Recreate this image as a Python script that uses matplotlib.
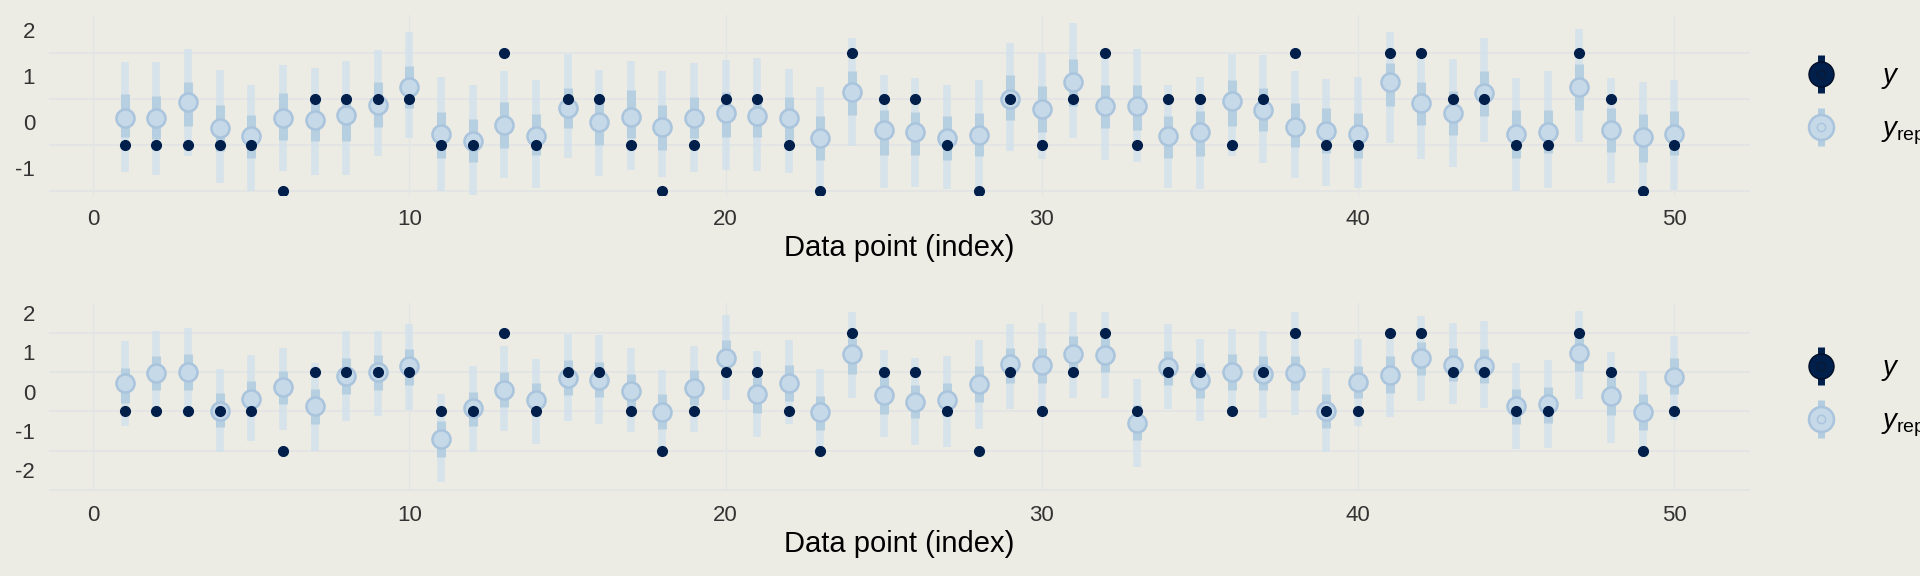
import matplotlib
matplotlib.use("Agg")
import matplotlib.pyplot as plt
from matplotlib.lines import Line2D
from matplotlib.legend_handler import HandlerTuple
import numpy as np

plt.rcParams['font.family'] = ['Liberation Sans', 'DejaVu Sans']
plt.rcParams['mathtext.fontset'] = 'custom'
plt.rcParams['mathtext.it'] = 'Liberation Sans:italic'
plt.rcParams['mathtext.rm'] = 'Liberation Sans'

# observed data (same in both panels)
y_obs = [-0.5, -0.5, -0.5, -0.5, -0.5, -1.5, 0.5, 0.5, 0.5, 0.5,
         -0.5, -0.5, 1.5, -0.5, 0.5, 0.5, -0.5, -1.5, -0.5, 0.5,
         0.5, -0.5, -1.5, 1.5, 0.5, 0.5, -0.5, -1.5, 0.5, -0.5,
         0.5, 1.5, -0.5, 0.5, 0.5, -0.5, 0.5, 1.5, -0.5, -0.5,
         1.5, 1.5, 0.5, 0.5, -0.5, -0.5, 1.5, 0.5, -1.5, -0.5]

# top panel: y_rep median, inner (50%) and outer (90%) intervals
top_med = [0.09, 0.09, 0.43, -0.13, -0.30, 0.09, 0.04, 0.15, 0.38, 0.76,
           -0.27, -0.41, -0.07, -0.30, 0.30, -0.01, 0.11, -0.12, 0.09, 0.20,
           0.14, 0.09, -0.34, 0.65, -0.18, -0.22, -0.35, -0.28, 0.50, 0.28,
           0.88, 0.34, 0.34, -0.31, -0.22, 0.45, 0.27, -0.12, -0.19, -0.26,
           0.87, 0.41, 0.20, 0.64, -0.27, -0.22, 0.76, -0.17, -0.33, -0.26]
top_in_hi = [0.60, 0.57, 0.88, 0.38, 0.16, 0.63, 0.45, 0.56, 0.88, 1.22,
             0.21, 0.07, 0.43, 0.18, 0.75, 0.49, 0.69, 0.38, 0.54, 0.66,
             0.59, 0.54, 0.14, 1.12, 0.25, 0.21, 0.12, 0.20, 1.03, 0.79,
             1.37, 0.81, 0.81, 0.14, 0.23, 0.92, 0.74, 0.41, 0.30, 0.20,
             1.28, 0.88, 0.67, 1.12, 0.25, 0.25, 1.27, 0.30, 0.17, 0.23]
top_in_lo = [-0.33, -0.38, -0.09, -0.64, -0.79, -0.40, -0.42, -0.42, -0.11, 0.30,
             -0.79, -0.88, -0.57, -0.73, -0.14, -0.51, -0.34, -0.62, -0.34, -0.33,
             -0.33, -0.40, -0.82, 0.16, -0.71, -0.73, -0.82, -0.75, 0.05, -0.22,
             0.34, -0.13, -0.17, -0.78, -0.75, -0.09, -0.20, -0.55, -0.67, -0.78,
             0.34, -0.07, -0.28, 0.14, -0.79, -0.67, 0.25, -0.66, -0.87, -0.73]
top_out_hi = [1.30, 1.30, 1.59, 1.14, 0.81, 1.25, 1.18, 1.32, 1.57, 1.97,
              0.98, 0.81, 1.12, 0.91, 1.49, 1.14, 1.33, 1.12, 1.28, 1.34,
              1.39, 1.16, 0.76, 1.83, 1.02, 0.95, 0.81, 0.91, 1.73, 1.50,
              2.15, 1.50, 1.59, 0.81, 0.98, 1.49, 1.46, 1.10, 0.93, 0.98,
              1.96, 1.37, 1.37, 1.83, 0.95, 1.10, 2.02, 0.96, 0.86, 0.92]
top_out_lo = [-1.08, -1.16, -0.75, -1.33, -1.50, -1.07, -1.16, -1.16, -0.75, -0.35,
              -1.50, -1.58, -1.22, -1.43, -0.78, -1.18, -1.05, -1.20, -1.08, -1.05,
              -1.07, -1.12, -1.50, -0.53, -1.44, -1.42, -1.47, -1.50, -0.64, -0.80,
              -0.35, -0.82, -0.88, -1.44, -1.45, -0.75, -0.89, -1.22, -1.40, -1.43,
              -0.46, -0.80, -0.98, -0.44, -1.50, -1.44, -0.44, -1.33, -1.50, -1.48]

# bottom panel
bot_med = [0.21, 0.47, 0.51, -0.48, -0.18, 0.11, -0.37, 0.39, 0.49, 0.66,
           -1.21, -0.41, 0.05, -0.21, 0.35, 0.29, 0.02, -0.51, 0.10, 0.86,
           -0.07, 0.21, -0.51, 0.95, -0.08, -0.26, -0.21, 0.20, 0.70, 0.67,
           0.96, 0.93, -0.79, 0.63, 0.29, 0.51, 0.46, 0.47, -0.49, 0.25,
           0.42, 0.86, 0.68, 0.64, -0.37, -0.32, 0.99, -0.11, -0.52, 0.37]
bot_in_hi = [0.60, 0.91, 0.95, -0.03, 0.26, 0.53, 0.08, 0.86, 0.93, 1.08,
             -0.75, 0.00, 0.49, 0.21, 0.81, 0.74, 0.46, -0.07, 0.56, 1.32,
             0.37, 0.67, -0.10, 1.37, 0.39, 0.18, 0.22, 0.66, 1.12, 1.10,
             1.42, 1.36, -0.35, 1.04, 0.73, 0.96, 0.91, 0.91, -0.05, 0.66,
             0.91, 1.26, 1.12, 1.09, 0.07, 0.13, 1.40, 0.37, -0.05, 0.85]
bot_in_lo = [-0.28, 0.04, 0.05, -0.90, -0.60, -0.32, -0.82, -0.07, 0.04, 0.18,
             -1.66, -0.87, -0.38, -0.62, -0.08, -0.13, -0.43, -0.95, -0.34, 0.43,
             -0.53, -0.24, -0.97, 0.46, -0.57, -0.68, -0.62, -0.26, 0.21, 0.22,
             0.49, 0.49, -1.22, 0.16, -0.16, 0.04, 0.05, 0.05, -0.92, -0.16,
             -0.03, 0.43, 0.27, 0.22, -0.81, -0.80, 0.53, -0.58, -0.97, -0.06]
bot_out_hi = [1.29, 1.54, 1.61, 0.58, 0.92, 1.12, 0.73, 1.53, 1.54, 1.71,
              -0.06, 0.66, 1.15, 0.83, 1.47, 1.44, 1.10, 0.54, 1.15, 1.95,
              1.02, 1.32, 0.58, 2.02, 1.06, 0.85, 0.91, 1.32, 1.72, 1.75,
              2.02, 2.02, 0.33, 1.72, 1.33, 1.59, 1.54, 2.01, 0.60, 1.34,
              1.57, 1.92, 1.74, 1.79, 0.73, 0.81, 2.05, 1.00, 0.53, 1.42]
bot_out_lo = [-0.87, -0.60, -0.62, -1.53, -1.26, -0.98, -1.51, -0.74, -0.62, -0.47,
              -2.29, -1.53, -1.01, -1.32, -0.75, -0.81, -1.03, -1.63, -1.02, -0.21,
              -1.15, -0.83, -1.50, -0.16, -1.15, -1.36, -1.40, -0.95, -0.45, -0.47,
              -0.16, -0.16, -1.90, -0.45, -0.74, -0.49, -0.67, -0.58, -1.54, -0.87,
              -0.65, -0.23, -0.32, -0.42, -1.46, -1.42, -0.19, -1.29, -1.46, -0.72]

x = np.arange(1, 51)

bg = "#ecece4"
dark = "#011f4b"
light = "#d1e1ec"
light_hl = "#b3cde0"
grid_col = "#e2e4e6"

fig = plt.figure(figsize=(19.2, 5.76), dpi=100, facecolor=bg)


def panel(rect, med, ilo, ihi, olo, ohi, ylim, yticks):
    ax = fig.add_axes(rect)
    ax.set_facecolor(bg)
    ax.vlines(x, olo, ohi, color=light, lw=5.5, alpha=0.8, zorder=2)
    ax.vlines(x, ilo, ihi, color=light_hl, lw=6.5, alpha=0.9, zorder=3)
    ax.plot(x, med, "o", ms=13, mfc="#c6d9e8", mec="#a9c4dc", mew=1.8, zorder=4)
    ax.plot(x, y_obs, "o", ms=7, mfc=dark, mec=dark, zorder=5)
    ax.set_xlim(-1.4, 52.4)
    ax.set_ylim(*ylim)
    ax.set_xticks([0, 10, 20, 30, 40, 50])
    ax.set_yticks(yticks)
    ax.set_yticklabels([str(t) for t in yticks])
    ax.set_yticks(np.arange(ylim[0] // 1 + 0.5, ylim[1], 1.0), minor=True)
    ax.grid(True, which="minor", axis="y", color=grid_col, lw=1.2, zorder=0)
    ax.grid(False, which="major", axis="y")
    ax.xaxis.grid(True, which="major", color=grid_col, lw=1.0, zorder=0)
    ax.tick_params(which="both", length=0, labelsize=16, labelcolor="#333333", pad=10)
    for s in ax.spines.values():
        s.set_visible(False)
    ax.set_xlabel("Data point (index)", fontsize=21, labelpad=3)

    h_y = (Line2D([], [], marker="|", ms=28, mew=5, color=dark, ls="none"),
           Line2D([], [], marker="o", ms=18, mfc=dark, mec="#000d26", ls="none"),
           Line2D([], [], marker="o", ms=6, mfc="none", mec="#0a1a33", ls="none"))
    h_r = (Line2D([], [], marker="|", ms=28, mew=5, color=light_hl, ls="none"),
           Line2D([], [], marker="o", ms=18, mfc="#c6d9e8", mec="#a9c4dc", mew=1.8, ls="none"),
           Line2D([], [], marker="o", ms=6, mfc="none", mec="#a9c4dc", ls="none"))
    ax.legend([h_y, h_r], ["$y$", "$y_{\\mathrm{rep}}$"],
              handler_map={tuple: HandlerTuple(ndivide=1, pad=0)},
              loc="center left", bbox_to_anchor=(1.015, 0.5), frameon=False,
              fontsize=20, handlelength=1.5, labelspacing=0.9, handletextpad=1.4)
    return ax


panel([0.0255, 0.6615, 0.886, 0.3125], top_med, top_in_lo, top_in_hi,
      top_out_lo, top_out_hi, (-1.59, 2.33), [-1, 0, 1, 2])
panel([0.0255, 0.1476, 0.886, 0.3264], bot_med, bot_in_lo, bot_in_hi,
      bot_out_lo, bot_out_hi, (-2.52, 2.25), [-2, -1, 0, 1, 2])

fig.savefig("out.png", dpi=100, facecolor=bg)
